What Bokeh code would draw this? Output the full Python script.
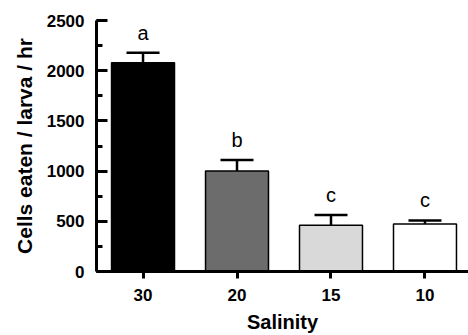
from bokeh.plotting import figure
from bokeh.models import Range1d, FixedTicker, ColumnDataSource, Whisker, TeeHead
from bokeh.embed import file_html
from bokeh.resources import INLINE
from bokeh.core.properties import value

# ---- data ----
categories = ["30", "20", "15", "10"]
cells_eaten = [2080, 1000, 460, 472]
error_upper = [2180, 1110, 562, 508]
letters = ["a", "b", "c", "c"]
bar_colors = ["#000000", "#6c6c6c", "#d9d9d9", "#ffffff"]
y_ticks = [0, 500, 1000, 1500, 2000, 2500]

x = list(range(len(categories)))
src = ColumnDataSource(dict(x=x, top=cells_eaten, err=error_upper, base=cells_eaten,
                            lab=letters, color=bar_colors))

FONT = "Liberation Sans"

p = figure(width=468, height=335, output_backend="svg", toolbar_location=None,
           x_range=Range1d(-0.495, 3.463), y_range=Range1d(0, 2500),
           min_border_left=96, min_border_right=0, min_border_top=20, min_border_bottom=64)
p.outline_line_color = None
p.grid.grid_line_color = None
p.background_fill_color = "white"

p.vbar(x="x", top="top", bottom=0, width=0.67, fill_color="color", line_color="black",
       line_width=1.5, source=src)

# error bars (upper only)
p.segment(x0="x", y0="base", x1="x", y1="err", line_color="black", line_width=2.5, source=src)
w = Whisker(base="x", lower="err", upper="err", source=src, dimension="height",
            line_color="black", line_width=2.5,
            upper_head=TeeHead(size=33, line_width=2.5, line_color="black"),
            lower_head=None)
p.add_layout(w)

p.text(x="x", y="err", text="lab", source=src, text_align="center", text_baseline="alphabetic",
       y_offset=-20, text_font=value(FONT), text_font_size="20px", text_color="black")

# axes
for ax in (p.xaxis[0], p.yaxis[0]):
    ax.axis_line_width = 3
    ax.axis_line_color = "black"
    ax.major_tick_line_width = 3
    ax.minor_tick_line_width = 3
    ax.major_label_text_font = FONT
    ax.major_label_text_font_style = "bold"
    ax.major_label_text_font_size = "17px"
    ax.major_label_text_color = "black"
    ax.axis_label_text_font = FONT
    ax.axis_label_text_font_style = "bold"
    ax.axis_label_text_color = "black"

p.yaxis.ticker = FixedTicker(ticks=y_ticks, minor_ticks=list(range(0, 2501, 250)))
p.yaxis.major_tick_in = 11
p.yaxis.major_tick_out = 0
p.yaxis.minor_tick_in = 6
p.yaxis.minor_tick_out = 0
p.yaxis.major_label_standoff = 12
p.yaxis.axis_label = "Cells eaten / larva / hr"
p.yaxis.axis_label_text_font_size = "21px"
p.yaxis.axis_label_standoff = 8

p.xaxis.ticker = FixedTicker(ticks=x)
p.xaxis.major_label_overrides = {i: c for i, c in zip(x, categories)}
p.xaxis.major_tick_in = 0
p.xaxis.major_tick_out = 7
p.xaxis.minor_tick_line_color = None
p.xaxis.major_label_standoff = 10
p.xaxis.axis_label = "Salinity"
p.xaxis.axis_label_text_font_size = "20px"
p.xaxis.axis_label_standoff = 7

open("out.html", "w").write(file_html(p, INLINE))
